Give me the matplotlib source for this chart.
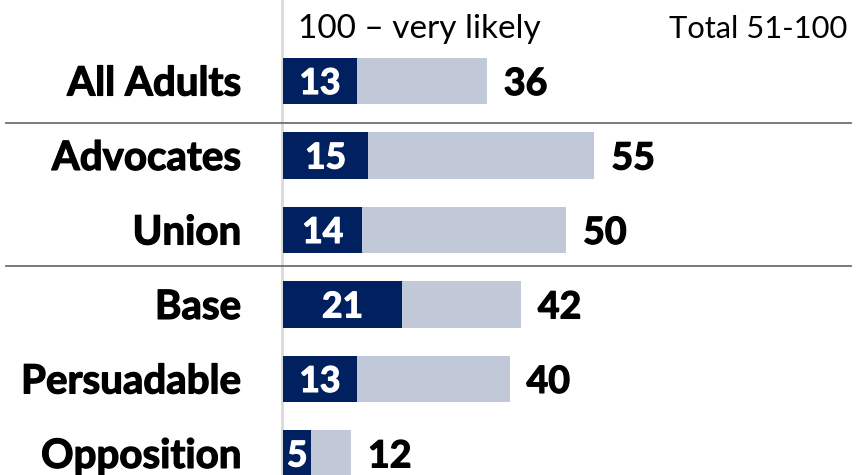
import matplotlib
matplotlib.use("Agg")
import matplotlib.pyplot as plt
import matplotlib.patheffects as pe

# data
groups = ["All Adults", "Advocates", "Union", "Base", "Persuadable", "Opposition"]
very_likely = [13, 15, 14, 21, 13, 5]      # 100 - very likely
total = [36, 55, 50, 42, 40, 12]           # total 51-100

dark = "#002060"
light = "#c1c8d8"
plt.rcParams["font.family"] = ["Lato", "DejaVu Sans"]

fig = plt.figure(figsize=(8.56, 4.75), dpi=100)
ax = fig.add_axes([0, 0, 1, 1])
ax.set_xlim(-50, 101.2)
ax.set_ylim(5.29, -1.087)
ax.axis("off")

ypos = list(range(len(groups)))
bh = 0.62
dy = 0.04  # nudge text down a touch, digits have no descenders

# Lato bold is a little thin next to the original, so fatten it a bit
fat_black = [pe.withStroke(linewidth=0.9, foreground="black")]
fat_white = [pe.withStroke(linewidth=0.9, foreground="white")]

# grey axis line at zero
ax.axvline(-0.25, color="#d9d9d9", lw=2, zorder=0)

# separators between the group blocks
for sy in [0.56, 2.48]:
    ax.plot([-48.9, 100.4], [sy, sy], color="#6e6e6e", lw=1.3, zorder=1)

ax.barh(ypos, total, height=bh, color=light, zorder=2)
ax.barh(ypos, very_likely, height=bh, color=dark, zorder=3)

for y, g, v, t in zip(ypos, groups, very_likely, total):
    ax.text(-7.4, y + dy, g, ha="right", va="center", fontsize=29, fontweight="bold",
            color="black", path_effects=fat_black)
    ax.text(v / 2, y + dy, str(v), ha="center", va="center", fontsize=25.5, fontweight="bold",
            color="white", zorder=4, path_effects=fat_white)
    ax.text(t + 3, y + dy, str(t), ha="left", va="center", fontsize=27, fontweight="bold",
            color="black", path_effects=fat_black)

ax.text(2.65, -0.70, "100 \u2013 very likely", ha="left", va="center", fontsize=24, color="black")
ax.text(99.6, -0.70, "Total 51-100", ha="right", va="center", fontsize=22.2, color="black")

fig.savefig("out.png", dpi=100)
